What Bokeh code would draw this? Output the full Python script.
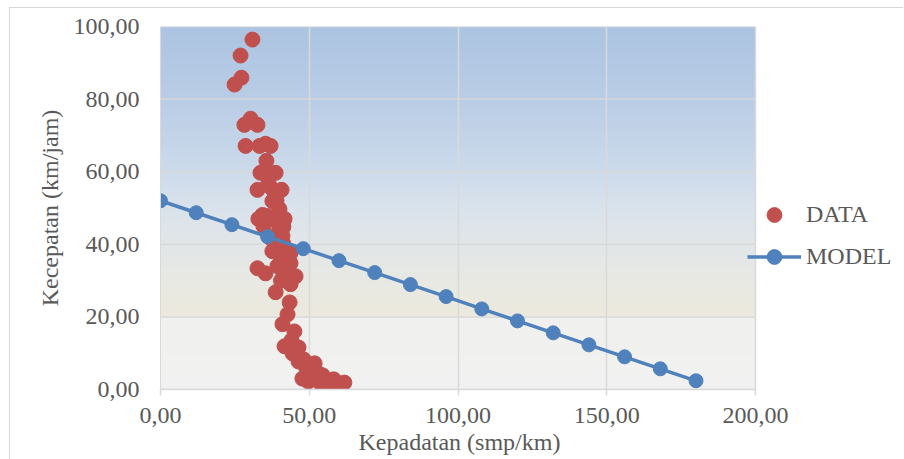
import numpy as np
from bokeh.plotting import figure
from bokeh.models import Range1d, FixedTicker, Legend, LegendItem, Title
from bokeh.embed import file_html
from bokeh.resources import INLINE

# ---- data ----
data_density = [30.9, 26.9, 27.2, 24.9, 30.3, 28.2, 32.6, 28.6, 33.3, 35.3,
                37.0, 35.6, 33.6, 37.0, 38.7, 32.6, 37.6, 40.7, 36.3, 40.0,
                34.3, 32.9, 35.9, 41.7, 39.3, 34.6, 39.7, 41.0, 41.3, 38.7,
                37.6, 42.0, 43.7, 40.3, 41.3, 39.3, 43.7, 32.6, 35.3, 41.3,
                45.4, 43.7, 38.7, 43.4, 42.7, 41.0, 45.0, 41.7, 46.4, 44.4,
                48.1, 46.4, 51.8, 47.7, 50.4, 52.1, 53.8, 55.8, 58.2, 59.8,
                61.8, 49.7, 54.5, 51.1, 57.1, 39.7, 39.0, 41.3, 37.0, 42.7,
                37.6, 40.5, 44.0, 49.0, 53.0, 56.5]
data_speed = [96.4, 92.0, 85.9, 84.0, 74.6, 72.9, 72.9, 67.1, 67.1, 67.7,
              67.1, 63.0, 59.7, 59.4, 59.7, 55.0, 55.2, 55.0, 56.9, 49.7,
              48.1, 47.0, 47.8, 47.0, 46.1, 45.0, 43.6, 42.3, 40.1, 38.7,
              38.1, 38.7, 37.6, 36.7, 35.4, 34.0, 34.8, 33.4, 32.0, 31.2,
              31.2, 29.0, 26.8, 24.0, 20.7, 18.0, 16.0, 11.9, 11.6, 9.9,
              8.3, 7.7, 7.2, 3.0, 5.0, 2.8, 1.7, 1.1, 2.8, 1.7,
              1.9, 2.2, 3.9, 3.6, 1.4, 40.9, 52.0, 44.8, 41.7, 34.0,
              51.9, 30.0, 13.5, 6.0, 4.5, 2.0]

model_density = [0, 12, 24, 36, 48, 60, 72, 84, 96, 108, 120, 132, 144, 156, 168, 180]
model_speed = [52.0, 48.7, 45.4, 42.1, 38.8, 35.5, 32.2, 28.9, 25.6, 22.2,
               18.9, 15.6, 12.3, 9.0, 5.7, 2.4]

x_ticks = [0, 50, 100, 150, 200]
x_tick_labels = ["0,00", "50,00", "100,00", "150,00", "200,00"]
y_ticks = [0, 20, 40, 60, 80, 100]
y_tick_labels = ["0,00", "20,00", "40,00", "60,00", "80,00", "100,00"]

FONT = "Liberation Serif"
TXT = "#595959"
GRID = "#d9d9d9"
FS = "24px"

X_MAX = 200.0
# frame spans the right-hand legend area too; plot area itself ends at X_MAX
x_end = X_MAX * 744.0 / 595.0

p = figure(width=894, height=452, output_backend="svg", toolbar_location=None,
           x_range=Range1d(0, x_end), y_range=Range1d(0, 100),
           min_border_left=150, min_border_right=0,
           min_border_top=18, min_border_bottom=71)
p.margin = (7, 0, 0, 9)
p.styles = {"border-left": "1px solid #d9d9d9", "border-top": "1px solid #d9d9d9"}
p.background_fill_color = "white"
p.border_fill_color = "white"
p.outline_line_color = None

# gradient background of the plot area
stops = [(0.0, (242, 242, 242)), (19.5, (240, 240, 238)), (20.5, (236, 234, 222)),
         (30, (232, 233, 228)), (40, (226, 230, 232)), (50, (218, 227, 236)),
         (60, (205, 219, 235)), (80, (186, 205, 230)), (100, (172, 196, 225))]
n = 400
ys = np.linspace(0, 100, n)
sv = [s[0] for s in stops]
img = np.zeros((n, 1), dtype=np.uint32)
view = img.view(dtype=np.uint8).reshape((n, 1, 4))
for c in range(3):
    view[:, 0, c] = np.interp(ys, sv, [s[1][c] for s in stops]).astype(np.uint8)
view[:, 0, 3] = 255
p.image_rgba(image=[img], x=0, y=0, dw=X_MAX, dh=100, level="image")

# grid
p.xgrid.ticker = FixedTicker(ticks=x_ticks)
p.xgrid.grid_line_color = GRID
p.xgrid.grid_line_width = 1.5
p.ygrid.grid_line_color = None
p.segment(x0=0, x1=X_MAX, y0=y_ticks, y1=y_ticks, line_color=GRID,
          line_width=1.5, level="underlay")

# axes
p.xaxis.ticker = FixedTicker(ticks=x_ticks)
p.yaxis.ticker = FixedTicker(ticks=y_ticks)
p.xaxis.bounds = (0, X_MAX)
p.xaxis.major_label_overrides = dict(zip(x_ticks, x_tick_labels))
p.yaxis.major_label_overrides = dict(zip(y_ticks, y_tick_labels))
for ax in (p.xaxis, p.yaxis):
    ax.major_label_text_font = FONT
    ax.major_label_text_font_size = FS
    ax.major_label_text_color = TXT
    ax.axis_label_text_font = FONT
    ax.axis_label_text_font_size = FS
    ax.axis_label_text_color = TXT
    ax.axis_label_text_font_style = "normal"
    ax.minor_tick_line_color = None
p.yaxis.axis_label = "Kecepatan (km/jam)"
p.xaxis.axis_line_color = GRID
p.xaxis.axis_line_width = 1.5
p.xaxis.major_tick_line_color = GRID
p.xaxis.major_tick_line_width = 1.5
p.xaxis.major_tick_out = 6
p.xaxis.major_tick_in = 0
p.xaxis.major_label_standoff = 12
p.yaxis.axis_line_color = GRID
p.yaxis.axis_line_width = 1
p.yaxis.major_tick_line_color = None
p.yaxis.major_tick_out = 0
p.yaxis.major_tick_in = 0
p.yaxis.major_label_standoff = 21
p.yaxis.axis_label_standoff = 8

# x-axis title, centred under the plot area (0..200) rather than the whole frame
p.add_layout(Title(text="Kepadatan (smp/km)", align="left", offset=198,
                   text_font=FONT, text_font_size=FS, text_font_style="normal",
                   text_color=TXT, standoff=2, padding=0), "below")

# series
r_data = p.scatter(data_density, data_speed, size=15, color="#c0504d", line_color="#c0504d")
r_line = p.line(model_density, model_speed, line_color="#4f81bd", line_width=3.5)
r_pts = p.scatter(model_density, model_speed, size=14, color="#4f81bd", line_color="#4f81bd")

legend = Legend(items=[LegendItem(label="DATA", renderers=[r_data]),
                       LegendItem(label="MODEL", renderers=[r_line, r_pts])],
                location=(587, 114), orientation="vertical",
                glyph_width=54, glyph_height=37, label_height=37,
                label_standoff=5, spacing=5, padding=0, margin=0,
                border_line_color=None, background_fill_alpha=0,
                label_text_font=FONT, label_text_font_size=FS,
                label_text_color=TXT)
p.add_layout(legend)

open("out.html", "w").write(file_html(p, INLINE))
